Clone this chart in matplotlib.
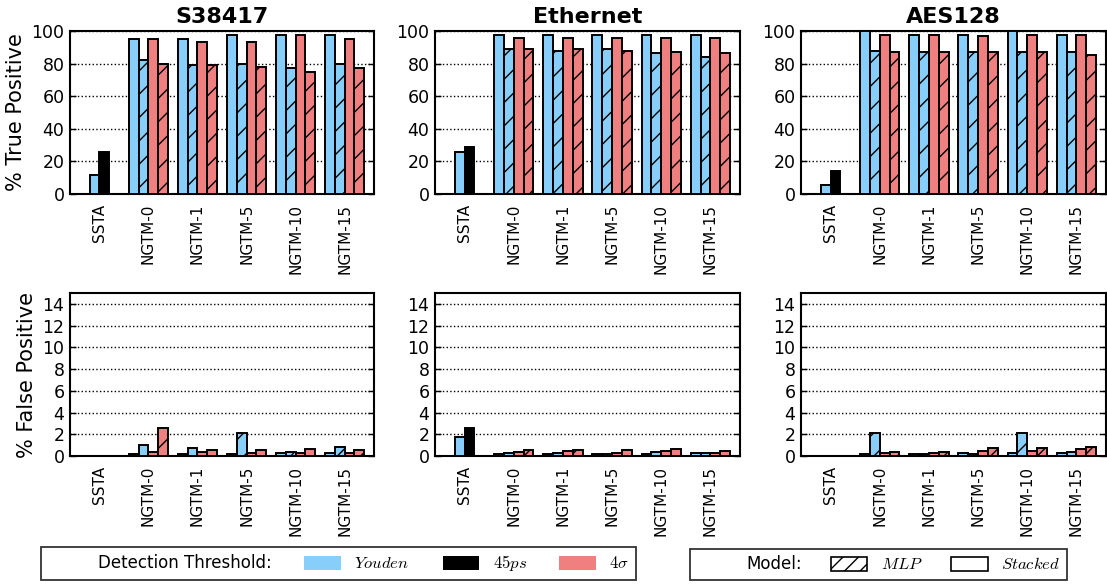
import matplotlib
matplotlib.use("Agg")
import matplotlib.pyplot as plt
import matplotlib.patches as mpatches
import numpy as np

DPI = 140
S = 100.0 / DPI  # scale so that sizes look as at 100 dpi

plt.rcParams['font.family'] = ['DejaVu Sans']
plt.rcParams['mathtext.fontset'] = 'cm'
plt.rcParams['hatch.linewidth'] = 1.0 * S

designs = ["S38417", "Ethernet", "AES128"]
groups = ["SSTA", "NGTM-0", "NGTM-1", "NGTM-5", "NGTM-10", "NGTM-15"]

# SSTA: [Youden, 45ps]
ssta_tp = {"S38417": [11.5, 26.0], "Ethernet": [25.8, 29.0], "AES128": [5.3, 14.3]}
ssta_fp = {"S38417": [0.0, 0.0], "Ethernet": [1.78, 2.6], "AES128": [0.0, 0.0]}

# NGTM true positive
tp_youden_stacked = {"S38417": [95.3, 95.3, 97.7, 97.7, 97.7],
                     "Ethernet": [97.7, 97.7, 97.7, 97.7, 97.7],
                     "AES128": [100.0, 97.7, 97.7, 100.0, 97.7]}
tp_youden_mlp = {"S38417": [82.0, 79.0, 79.5, 77.0, 79.5],
                 "Ethernet": [88.7, 87.5, 88.7, 86.3, 84.3],
                 "AES128": [87.7, 87.3, 87.3, 87.3, 87.3]}
tp_sigma_stacked = {"S38417": [95.3, 93.3, 93.3, 97.7, 95.3],
                    "Ethernet": [95.5, 95.5, 95.5, 95.5, 95.5],
                    "AES128": [97.7, 97.7, 96.7, 97.7, 97.7]}
tp_sigma_mlp = {"S38417": [79.8, 79.0, 77.7, 74.8, 77.0],
                "Ethernet": [89.0, 88.7, 88.0, 87.0, 86.7],
                "AES128": [87.3, 87.3, 87.3, 87.3, 85.3]}

# NGTM false positive
fp_youden_stacked = {"S38417": [0.15, 0.2, 0.18, 0.28, 0.28],
                     "Ethernet": [0.15, 0.15, 0.2, 0.2, 0.28],
                     "AES128": [0.15, 0.2, 0.25, 0.25, 0.25]}
fp_youden_mlp = {"S38417": [1.0, 0.77, 2.15, 0.37, 0.86],
                 "Ethernet": [0.28, 0.25, 0.2, 0.37, 0.28],
                 "AES128": [2.1, 0.15, 0.15, 2.1, 0.35]}
fp_sigma_stacked = {"S38417": [0.37, 0.4, 0.25, 0.28, 0.28],
                    "Ethernet": [0.4, 0.43, 0.3, 0.5, 0.28],
                    "AES128": [0.25, 0.3, 0.5, 0.5, 0.6]}
fp_sigma_mlp = {"S38417": [2.55, 0.52, 0.55, 0.62, 0.58],
                "Ethernet": [0.52, 0.58, 0.52, 0.65, 0.5],
                "AES128": [0.4, 0.4, 0.75, 0.75, 0.85]}

C_YOUDEN = "#87CEFA"
C_45PS = "#000000"
C_SIGMA = "#F08080"

W, H = 1107, 584
fig = plt.figure(figsize=(W / DPI, H / DPI), dpi=DPI)

lefts = [70, 435, 801]
widths = [304, 305, 305]
row_bottoms = [194, 456]
ax_h = 163

bw = 0.2
x = np.arange(len(groups))
xn = x[1:]

def style_axes(ax, ylim, yticks, ylabel=None):
    ax.set_xlim(-0.6, 5.6)
    ax.set_ylim(*ylim)
    ax.set_yticks(yticks)
    ax.set_xticks(x)
    ax.set_xticklabels(groups, rotation=90, fontsize=11 * S)
    ax.tick_params(axis='y', direction='in', left=True, right=True, length=4 * S,
                   width=1 * S, labelsize=12.5 * S, pad=4 * S)
    ax.tick_params(axis='x', direction='in', bottom=True, top=False, length=0, pad=7 * S)
    ax.yaxis.grid(True, linestyle=':', color='black', linewidth=1 * S)
    ax.set_axisbelow(True)
    for s in ax.spines.values():
        s.set_linewidth(1.5 * S)
    if ylabel:
        ax.set_ylabel(ylabel, fontsize=15 * S, labelpad=4 * S)

kw = dict(width=bw, edgecolor='black', linewidth=1.4 * S, zorder=3)

for row in range(2):
    for col, d in enumerate(designs):
        left = lefts[col] / W
        bottom = 1 - row_bottoms[row] / H
        ax = fig.add_axes([left, bottom, widths[col] / W, ax_h / H])
        if row == 0:
            s = ssta_tp[d]
            ys, ym, ss, sm = tp_youden_stacked[d], tp_youden_mlp[d], tp_sigma_stacked[d], tp_sigma_mlp[d]
        else:
            s = ssta_fp[d]
            ys, ym, ss, sm = fp_youden_stacked[d], fp_youden_mlp[d], fp_sigma_stacked[d], fp_sigma_mlp[d]
        ax.bar(x[0] - 0.5 * bw, s[0], color=C_YOUDEN, **kw)
        ax.bar(x[0] + 0.5 * bw, s[1], color=C_45PS, **kw)
        ax.bar(xn - 1.5 * bw, ys, color=C_YOUDEN, **kw)
        ax.bar(xn - 0.5 * bw, ym, color=C_YOUDEN, hatch='//', **kw)
        ax.bar(xn + 0.5 * bw, ss, color=C_SIGMA, **kw)
        ax.bar(xn + 1.5 * bw, sm, color=C_SIGMA, hatch='//', **kw)
        if row == 0:
            style_axes(ax, (0, 100), [0, 20, 40, 60, 80, 100],
                       "% True Positive" if col == 0 else None)
            ax.set_title(d, fontsize=16 * S, fontweight='bold', pad=6 * S)
        else:
            style_axes(ax, (0, 15), [0, 2, 4, 6, 8, 10, 12, 14],
                       "% False Positive" if col == 0 else None)

# Legends
blank = mpatches.Patch(visible=False)
h1 = [blank,
      mpatches.Patch(facecolor=C_YOUDEN, edgecolor='none'),
      mpatches.Patch(facecolor=C_45PS, edgecolor='none'),
      mpatches.Patch(facecolor=C_SIGMA, edgecolor='none')]
l1 = ["Detection Threshold:", r"$Youden$", r"$45ps$", r"$4\sigma$"]
leg1 = fig.legend(h1, l1, ncol=4, loc='lower left',
                  bbox_to_anchor=(41 / W, 1 - 580 / H, (636 - 41) / W, 32 / H),
                  mode='expand', fontsize=12 * S, frameon=True, fancybox=False,
                  edgecolor='black', handlelength=2.2, handleheight=0.9,
                  borderaxespad=0, borderpad=0.4)
leg1.get_frame().set_linewidth(1.3 * S)

h2 = [blank,
      mpatches.Patch(facecolor='white', edgecolor='black', hatch='///', linewidth=1.2 * S),
      mpatches.Patch(facecolor='white', edgecolor='black', linewidth=1.2 * S)]
l2 = ["Model:", r"$MLP$", r"$Stacked$"]
leg2 = fig.legend(h2, l2, ncol=3, loc='lower left',
                  bbox_to_anchor=(690 / W, 1 - 580 / H, (1067 - 690) / W, 32 / H),
                  mode='expand', fontsize=12 * S, frameon=True, fancybox=False,
                  edgecolor='black', handlelength=2.2, handleheight=0.9,
                  borderaxespad=0, borderpad=0.4)
leg2.get_frame().set_linewidth(1.3 * S)

fig.savefig("out.png", dpi=DPI)
